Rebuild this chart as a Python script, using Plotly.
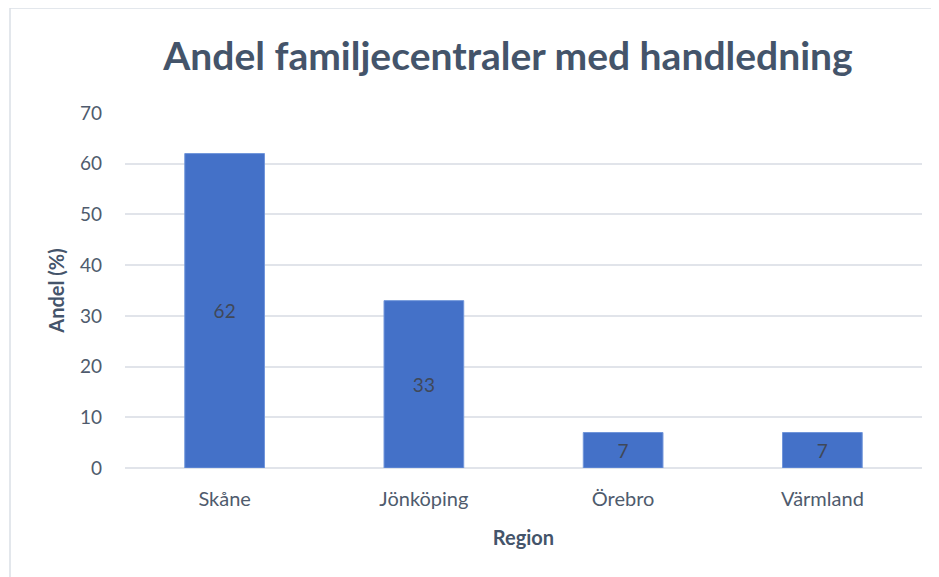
import plotly.graph_objects as go

regions = ["Skåne", "Jönköping", "Örebro", "Värmland"]
andel = [62, 33, 7, 7]
y_ticks = [0, 10, 20, 30, 40, 50, 60, 70]

title_text = "Andel familjecentraler med handledning"
x_title = "Region"
y_title = "Andel (%)"

FONT = "Lato"
TXT = "#4F5B6D"
TITLE_C = "#44546A"

fig = go.Figure(
    go.Bar(
        x=regions,
        y=andel,
        text=[str(v) for v in andel],
        textposition="inside",
        insidetextanchor="middle",
        textfont=dict(family=FONT, size=19, color="#404858"),
        marker=dict(color="#4471C8", line=dict(color="#7196DA", width=1)),
        hoverinfo="skip",
    )
)

# page is rendered with an 8px body offset
OFF = 8
W, H = 939, 577
L, R, T, B = 125 - OFF, 17 + OFF, 113 - OFF, 109 + OFF
pw, ph = W - L - R, H - T - B

def px_x(p):
    return (p - OFF - L) / pw

def px_y(p):
    return 1 - (p - OFF - T) / ph

fig.update_layout(
    width=W,
    height=H,
    margin=dict(l=L, r=R, t=T, b=B),
    paper_bgcolor="white",
    plot_bgcolor="white",
    bargap=0.6,
    showlegend=False,
    font=dict(family=FONT, color=TXT),
    title=dict(
        text=f"<b>{title_text}</b>",
        x=(508 - OFF) / W,
        xanchor="center",
        y=1 - (56 - OFF) / H,
        yanchor="middle",
        font=dict(family=FONT, size=39, color=TITLE_C),
    ),
    xaxis=dict(
        showgrid=False,
        showline=False,
        ticks="",
        ticklabelstandoff=17,
        tickfont=dict(family=FONT, size=20, color=TXT),
        title=dict(text=f"<b>{x_title}</b>", font=dict(family=FONT, size=20, color=TITLE_C), standoff=21),
    ),
    yaxis=dict(
        range=[0, 70],
        tickvals=y_ticks,
        showgrid=True,
        gridcolor="#E1E4EA",
        gridwidth=1.5,
        zeroline=True,
        zerolinecolor="#E1E4EA",
        zerolinewidth=1.5,
        showline=False,
        ticks="",
        ticklabelstandoff=22,
        tickfont=dict(family=FONT, size=19, color=TXT),
        title=dict(text=f"<b>{y_title}</b>", font=dict(family=FONT, size=20, color=TITLE_C), standoff=9),
    ),
    shapes=[
        dict(type="line", xref="paper", yref="paper", x0=px_x(10), x1=px_x(950), y0=px_y(8), y1=px_y(8),
             line=dict(color="#DADFE6", width=1.5)),
        dict(type="line", xref="paper", yref="paper", x0=px_x(10), x1=px_x(10), y0=px_y(8), y1=px_y(590),
             line=dict(color="#DADFE6", width=1.5)),
    ],
)

fig.write_html("out.html")
